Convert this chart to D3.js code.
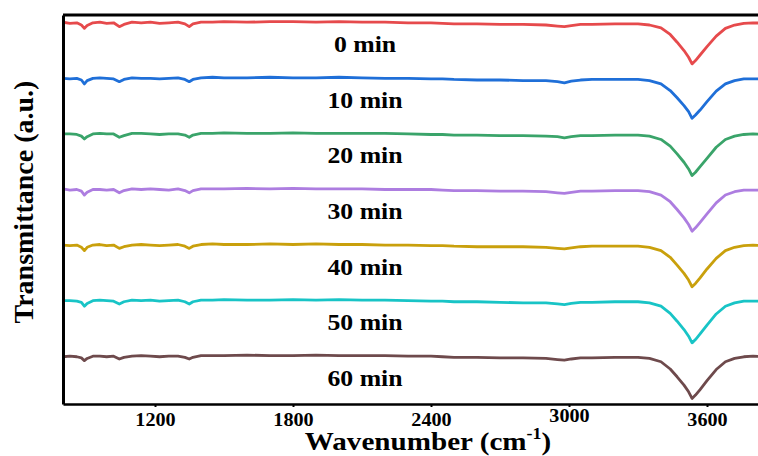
<!DOCTYPE html>
<html>
<head>
<meta charset="utf-8">
<script src="https://cdn.jsdelivr.net/npm/d3@7"></script>
<style>
  body { margin: 0; background: #fff; }
  text { font-family: "Liberation Serif", "Times New Roman", serif; font-weight: bold; fill: #000; }
</style>
</head>
<body>
<div id="chart"></div>
<script>
// shared wavenumber grid (cm-1)
const wavenumbers = [800, 830, 860, 880, 893, 905, 930, 960, 990, 1020,
  1045, 1065, 1100, 1140, 1180, 1220, 1260, 1300, 1330, 1349,
  1365, 1400, 1450, 1500, 1600, 1700, 1800, 1900, 2000, 2100,
  2200, 2300, 2400, 2450, 2500, 2600, 2700, 2800, 2900, 2950,
  2980, 3010, 3050, 3100, 3200, 3300, 3350, 3400, 3440, 3470,
  3500, 3520, 3535, 3550, 3570, 3600, 3640, 3680, 3720, 3760,
  3800, 3850];

const labels = ["0 min", "10 min", "20 min", "30 min", "40 min", "50 min", "60 min"];
const offsets = [6, 5, 4, 3, 2, 1, 0];
const colors = ["#e64a4c", "#1f6fd8", "#3aa46a", "#ad7de0", "#c9a00c", "#18c4c6", "#6e4a4c"];
const xTicks = [1200, 1800, 2400, 3000, 3600];

const t0 = [0.02, 0.00, 0.01, -0.03, -0.09, -0.04, 0.01, 0.02, 0.00, 0.01,
  -0.06, -0.02, 0.02, 0.01, 0.02, 0.00, 0.01, 0.02, -0.01, -0.06,
  -0.01, 0.02, 0.02, 0.03, 0.02, 0.03, 0.03, 0.02, 0.03, 0.02,
  0.02, 0.01, 0.01, 0.00, -0.01, -0.01, -0.02, -0.02, -0.03, -0.05,
  -0.06, -0.04, -0.02, -0.02, -0.01, -0.01, -0.03, -0.08, -0.20, -0.34,
  -0.49, -0.61, -0.73, -0.67, -0.57, -0.42, -0.23, -0.09, -0.03, 0.00,
  0.01, 0.00];
const t10 = [0.01, 0.00, 0.01, -0.02, -0.09, -0.03, 0.01, 0.02, 0.01, 0.00,
  -0.05, -0.01, 0.02, 0.01, 0.01, 0.00, 0.01, 0.02, -0.01, -0.05,
  -0.01, 0.02, 0.03, 0.02, 0.02, 0.03, 0.02, 0.02, 0.03, 0.02,
  0.01, 0.01, 0.00, 0.00, -0.01, -0.02, -0.02, -0.03, -0.03, -0.05,
  -0.07, -0.04, -0.02, -0.01, -0.01, -0.01, -0.03, -0.09, -0.21, -0.34,
  -0.48, -0.59, -0.71, -0.65, -0.56, -0.41, -0.22, -0.09, -0.03, 0.00,
  0.00, 0.00];
const t20 = [0.01, 0.01, 0.00, -0.03, -0.08, -0.04, 0.01, 0.02, 0.01, 0.01,
  -0.05, -0.02, 0.02, 0.02, 0.01, 0.00, 0.01, 0.01, -0.01, -0.05,
  -0.01, 0.02, 0.02, 0.03, 0.02, 0.02, 0.03, 0.02, 0.02, 0.02,
  0.02, 0.01, 0.00, 0.00, -0.01, -0.01, -0.02, -0.02, -0.03, -0.04,
  -0.06, -0.04, -0.02, -0.02, -0.01, -0.01, -0.03, -0.09, -0.21, -0.35,
  -0.50, -0.62, -0.74, -0.68, -0.58, -0.43, -0.23, -0.09, -0.03, 0.00,
  0.01, 0.00];
const t30 = [0.02, 0.00, 0.01, -0.02, -0.09, -0.04, 0.01, 0.01, 0.00, 0.01,
  -0.05, -0.01, 0.02, 0.01, 0.02, 0.01, 0.00, 0.02, -0.01, -0.05,
  -0.01, 0.02, 0.02, 0.02, 0.03, 0.02, 0.03, 0.02, 0.02, 0.02,
  0.01, 0.01, 0.01, 0.00, -0.01, -0.01, -0.02, -0.02, -0.03, -0.05,
  -0.06, -0.04, -0.02, -0.02, -0.01, -0.01, -0.03, -0.09, -0.21, -0.35,
  -0.50, -0.62, -0.74, -0.68, -0.58, -0.43, -0.23, -0.09, -0.03, 0.00,
  0.00, 0.00];
const t40 = [0.01, 0.00, 0.01, -0.03, -0.09, -0.03, 0.01, 0.02, 0.00, 0.01,
  -0.05, -0.02, 0.01, 0.02, 0.01, 0.00, 0.01, 0.02, -0.01, -0.05,
  -0.01, 0.02, 0.03, 0.02, 0.02, 0.03, 0.02, 0.03, 0.02, 0.02,
  0.01, 0.01, 0.00, 0.00, -0.01, -0.02, -0.02, -0.02, -0.03, -0.05,
  -0.06, -0.04, -0.02, -0.01, -0.01, -0.01, -0.03, -0.09, -0.21, -0.35,
  -0.50, -0.62, -0.74, -0.68, -0.58, -0.42, -0.23, -0.09, -0.03, 0.00,
  0.01, 0.00];
const t50 = [0.01, 0.01, 0.00, -0.02, -0.09, -0.04, 0.01, 0.02, 0.01, 0.00,
  -0.05, -0.01, 0.02, 0.01, 0.02, 0.00, 0.01, 0.02, -0.01, -0.05,
  -0.01, 0.02, 0.02, 0.03, 0.02, 0.02, 0.03, 0.02, 0.03, 0.02,
  0.02, 0.01, 0.00, 0.00, -0.01, -0.01, -0.02, -0.03, -0.03, -0.05,
  -0.06, -0.04, -0.02, -0.02, -0.01, -0.01, -0.03, -0.09, -0.22, -0.36,
  -0.51, -0.63, -0.75, -0.69, -0.59, -0.43, -0.23, -0.09, -0.03, 0.00,
  0.00, 0.00];
const t60 = [0.00, 0.01, 0.00, -0.02, -0.07, -0.03, 0.01, 0.01, 0.00, 0.01,
  -0.04, -0.01, 0.01, 0.02, 0.01, 0.00, 0.01, 0.01, -0.01, -0.04,
  -0.01, 0.02, 0.02, 0.02, 0.03, 0.02, 0.02, 0.03, 0.02, 0.02,
  0.02, 0.01, 0.01, 0.00, -0.01, -0.01, -0.02, -0.02, -0.03, -0.05,
  -0.06, -0.04, -0.02, -0.02, -0.01, -0.01, -0.03, -0.09, -0.22, -0.36,
  -0.51, -0.63, -0.75, -0.69, -0.59, -0.43, -0.23, -0.09, -0.03, 0.00,
  0.01, 0.00];
const spectra = [t0, t10, t20, t30, t40, t50, t60];

function SpectraChart() {
  let params = {
    width: 758,
    height: 456,
    stretch: 1.12,
    margin: { left: 63, right: -41, top: 15, bottom: 52 }
  };

  function my(selection) {
    let svg = selection.append("svg")
      .attr("width", params.width)
      .attr("height", params.height)
      .style("display", "block");

    let m = params.margin;
    let x = d3.scaleLinear()
      .domain([800, 4000])
      .range([m.left, params.width - m.right]);
    let y = d3.scaleLinear()
      .domain([-0.85, 6.15])
      .range([params.height - m.bottom, m.top]);

    svg.append("clipPath").attr("id", "plot-clip")
      .append("rect")
      .attr("x", m.left).attr("y", m.top)
      .attr("width", params.width - m.left)
      .attr("height", params.height - m.bottom - m.top);

    let line = d3.line()
      .x(d => x(d[0]))
      .y(d => y(d[1]));

    let g = svg.append("g").attr("clip-path", "url(#plot-clip)");
    spectra.forEach((vals, i) => {
      let pts = wavenumbers.map((w, j) => [w, vals[j] + offsets[i]]);
      g.append("path")
        .datum(pts)
        .attr("fill", "none")
        .attr("stroke", colors[i])
        .attr("stroke-width", 2.8)
        .attr("stroke-linejoin", "round")
        .attr("d", line);
    });

    // series labels
    labels.forEach((lab, i) => {
      svg.append("text")
        .attr("transform", "translate(365," + (y(offsets[i]) + 29) + ") scale(" + params.stretch + ",1)")
        .attr("text-anchor", "middle")
        .style("font-size", "23px")
        .text(lab);
    });

    // top border
    svg.append("line")
      .attr("x1", m.left).attr("x2", params.width)
      .attr("y1", m.top).attr("y2", m.top)
      .attr("stroke", "#000").attr("stroke-width", 3);

    let axisBottom = d3.axisBottom(x)
      .tickValues(xTicks)
      .tickFormat(d3.format("d"))
      .tickSizeInner(3)
      .tickSizeOuter(0)
      .tickPadding(6);

    let ax = svg.append("g")
      .attr("transform", "translate(0," + (params.height - m.bottom) + ")")
      .call(axisBottom);
    ax.select(".domain").attr("stroke-width", 2.5);
    ax.selectAll(".tick line").attr("stroke-width", 2);
    ax.selectAll(".tick text")
      .attr("transform", "scale(" + params.stretch + ",1)")
      .attr("dy", d => d === 3000 ? "0.5em" : "0.71em")
      .style("font-size", "18px")
      .style("font-family", "'Liberation Serif', serif")
      .style("font-weight", "bold");

    let axisLeft = d3.axisLeft(y).tickValues([]).tickSizeOuter(0);
    svg.append("g")
      .attr("transform", "translate(" + m.left + ",0)")
      .call(axisLeft)
      .select(".domain").attr("stroke-width", 3);

    // axis titles
    let xt = svg.append("text")
      .attr("transform", "translate(428,450) scale(" + params.stretch + ",1)")
      .attr("text-anchor", "middle")
      .style("font-size", "26px");
    xt.append("tspan").text("Wavenumber (cm");
    xt.append("tspan").attr("dy", -11).style("font-size", "16px").text("-1");
    xt.append("tspan").attr("dy", 11).text(")");

    svg.append("text")
      .attr("transform", "translate(33,202) rotate(-90)")
      .attr("text-anchor", "middle")
      .style("font-size", "28px")
      .text("Transmittance (a.u.)");
  }

  return my;
}

d3.select("#chart").call(SpectraChart());
</script>
</body>
</html>
